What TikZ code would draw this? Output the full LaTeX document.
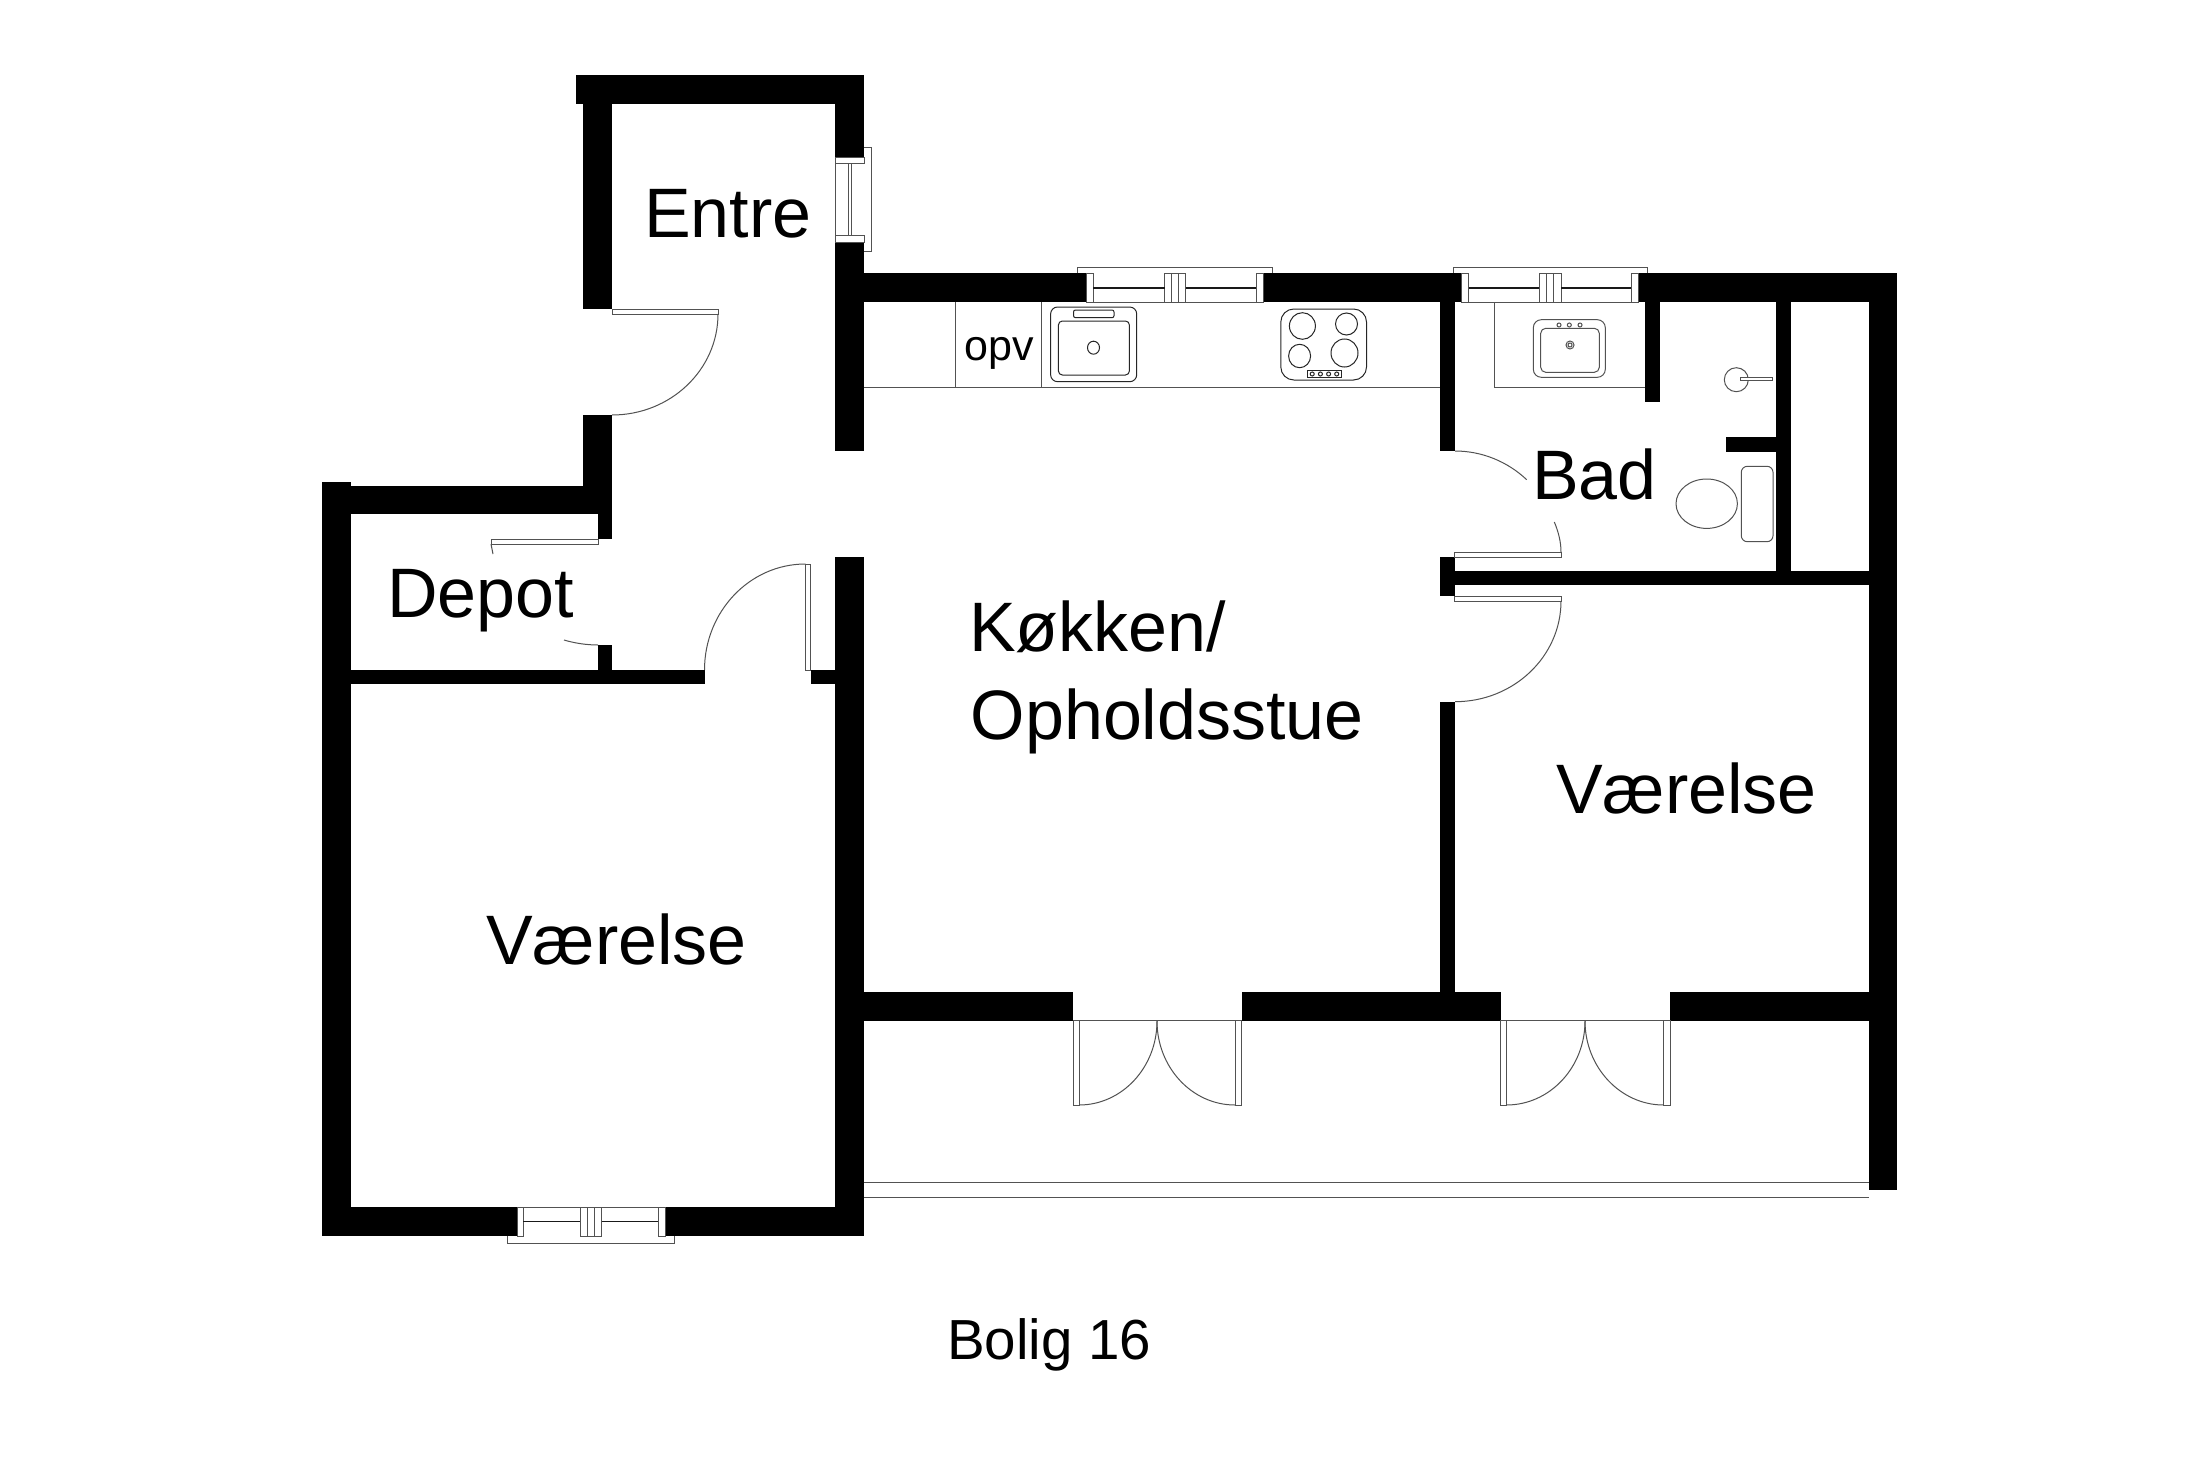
\documentclass[tikz,border=0pt]{standalone}
\usepackage{fontspec}
\setmainfont{Liberation Sans}
\tikzset{
  wall/.style={fill=black,draw=none},
  thin line/.style={draw=black!68,line width=1pt},
  fix line/.style={draw=black!85,line width=1pt},
  glass/.style={draw=black!90,line width=1.5pt},
  label big/.style={anchor=base west,inner sep=0pt,font=\fontsize{70}{80}\selectfont},
  label mid/.style={anchor=base west,inner sep=0pt,font=\fontsize{56.5}{66}\selectfont},
  label small/.style={anchor=base west,inner sep=0pt,font=\fontsize{43}{50}\selectfont},
}
\begin{document}
\begin{tikzpicture}[x=1pt,y=-1pt]
\useasboundingbox (0,0) rectangle (2200,1466);
\fill[white] (0,0) rectangle (2200,1466);
% ---- walls
\fill[wall] (576,75) rectangle (864,104);
\fill[wall] (583,104) rectangle (612,309);
\fill[wall] (835,104) rectangle (864,158);
\fill[wall] (835,242) rectangle (864,451);
\fill[wall] (864,273) rectangle (1086.5,302);
\fill[wall] (1263,273) rectangle (1461,302);
\fill[wall] (1638,273) rectangle (1897,302);
\fill[wall] (1869,302) rectangle (1897,1190);
\fill[wall] (1440.3,302) rectangle (1454.7,451);
\fill[wall] (1440.3,557) rectangle (1454.7,596.3);
\fill[wall] (1440.3,701.7) rectangle (1454.7,1000);
\fill[wall] (1645,302) rectangle (1660,401.7);
\fill[wall] (1776.3,302) rectangle (1790.7,571);
\fill[wall] (1726,437) rectangle (1776.3,451.7);
\fill[wall] (1454.7,571) rectangle (1869,585);
\fill[wall] (583,415) rectangle (612,514);
\fill[wall] (322,482) rectangle (350.5,1236);
\fill[wall] (350.5,486) rectangle (612,514);
\fill[wall] (598,514) rectangle (612,539);
\fill[wall] (598,645) rectangle (612,670);
\fill[wall] (350.5,670) rectangle (704.5,684);
\fill[wall] (810.5,670) rectangle (835,684);
\fill[wall] (835,557) rectangle (864,1236);
\fill[wall] (350.5,1207) rectangle (517,1236);
\fill[wall] (665,1207) rectangle (864,1236);
\fill[wall] (864,991.7) rectangle (1073,1020.7);
\fill[wall] (1241.6,991.7) rectangle (1500.7,1020.7);
\fill[wall] (1670,991.7) rectangle (1869,1020.7);
% ---- entry window
\draw[thin line] (835,158) rectangle (864,164);
\draw[thin line] (835,235) rectangle (864,242);
\draw[thin line] (835,164) -- (835,235);
\draw[thin line] (848,164) -- (848,235) (851,164) -- (851,235);
\draw[thin line] (864,148) -- (871,148) -- (871,251) -- (864,251);
% ---- kitchen window
\draw[thin line] (1077.5,273) -- (1077.5,267) -- (1272,267) -- (1272,273);
\draw[thin line] (1086.5,273) rectangle (1093,302);
\draw[thin line] (1164.5,273) rectangle (1185.7,302);
\draw[thin line] (1171.4,273) -- (1171.4,302) (1178.4,273) -- (1178.4,302);
\draw[thin line] (1256,273) rectangle (1263,302);
\draw[thin line] (1093,302) -- (1256,302);
\draw[glass] (1093,288) -- (1164.5,288) (1185.7,288) -- (1256,288);
% ---- bath window
\draw[thin line] (1453,273) -- (1453,267) -- (1647.7,267) -- (1647.7,273);
\draw[thin line] (1461,273) rectangle (1468.7,302);
\draw[thin line] (1539.3,273) rectangle (1561,302);
\draw[thin line] (1546.7,273) -- (1546.7,302) (1553.7,273) -- (1553.7,302);
\draw[thin line] (1631,273) rectangle (1638,302);
\draw[thin line] (1468.7,302) -- (1631,302);
\draw[glass] (1468.7,288) -- (1539.3,288) (1561,288) -- (1631,288);
% ---- bedroom window
\draw[thin line] (507.7,1236) -- (507.7,1243.3) -- (674.3,1243.3) -- (674.3,1236);
\draw[thin line] (517,1207) rectangle (523.3,1236);
\draw[thin line] (580.3,1207) rectangle (601.7,1236);
\draw[thin line] (587.3,1207) -- (587.3,1236) (594.3,1207) -- (594.3,1236);
\draw[thin line] (658,1207) rectangle (665,1236);
\draw[thin line] (523.3,1207) -- (658,1207);
\draw[glass] (523.3,1221.7) -- (580.3,1221.7) (601.7,1221.7) -- (658,1221.7);
% ---- counters
\draw[thin line] (864,387.3) -- (1440.3,387.3);
\draw[thin line] (955.7,302) -- (955.7,387.3);
\draw[thin line] (1041.6,302) -- (1041.6,387.3);
\draw[thin line] (1494,302) -- (1494,387.3) -- (1645,387.3);
% ---- kitchen sink
\draw[fix line,rounded corners=7pt] (1050.6,307) rectangle (1136.7,381.7);
\draw[fix line,rounded corners=4pt] (1058.4,321) rectangle (1129.4,375);
\draw[fix line,rounded corners=2pt] (1073.5,310) rectangle (1114,317.7);
\draw[fix line] (1093.5,347.7) ellipse (6 and 6.5);
% ---- hob
\draw[fix line,rounded corners=13pt] (1280.8,309) rectangle (1366.5,380);
\draw[fix line] (1302.4,326) ellipse (13 and 13.3);
\draw[fix line] (1346.5,324) ellipse (11 and 11);
\draw[fix line] (1299.6,356) ellipse (11 and 11.7);
\draw[fix line] (1344.5,353) ellipse (13.5 and 14);
\draw[fix line] (1307.8,370.7) rectangle (1341,377.3);
\foreach \kx in {1312.2,1320.4,1328.6,1336.7} \draw[fix line] (\kx,374) circle (2);
% ---- bath sink, wash, toilet
\draw[thin line,rounded corners=8pt] (1533.3,319.7) rectangle (1605.3,377.3);
\draw[thin line,rounded corners=5pt] (1540.7,328.3) rectangle (1599.3,372.3);
\foreach \kx in {1559,1569.3,1580} \draw[thin line] (\kx,325) circle (2);
\draw[thin line] (1570,345) circle (4) (1570,345) circle (2);
\draw[thin line] (1736.3,379.7) circle (12);
\draw[thin line,fill=white] (1740.3,377.7) rectangle (1772.3,380.7);
\draw[thin line] (1706.7,503.7) ellipse (30.7 and 24.7);
\draw[thin line,rounded corners=6pt] (1741.3,466.3) rectangle (1773,541.7);
% ---- single doors
\draw[thin line] (612,309) rectangle (718,314);
\draw[thin line] (718,314) .. controls (718,369.8) and (670.5,415) .. (612,415);
\draw[thin line] (598,539) -- (598,544) -- (491,544) -- (491,539) -- cycle;
\draw[thin line] (491,544) -- (493,554);
\draw[thin line] (598,645) .. controls (586,645) and (574,643) .. (564,640);
\draw[thin line] (805.5,564) rectangle (810.5,670);
\draw[thin line] (805.5,564) .. controls (749.7,564) and (704.5,611.5) .. (704.5,670);
\draw[thin line] (1454.7,552.3) rectangle (1561,557.3);
\draw[thin line] (1455,451) .. controls (1481.7,451) and (1507.3,461.4) .. (1526.7,479.7);
\draw[thin line] (1554.3,522) .. controls (1558.5,532) and (1561,542) .. (1561,552.3);
\draw[thin line] (1454.7,596.3) rectangle (1561,601);
\draw[thin line] (1561,601) .. controls (1561,656.6) and (1513.5,701.7) .. (1455,701.7);
% ---- French doors
\draw[thin line] (1073,1020.7) -- (1241.6,1020.7);
\draw[thin line] (1073,1020.7) rectangle (1079,1105);
\draw[thin line] (1235,1020.7) rectangle (1241.6,1105);
\draw[thin line] (1157,1021) .. controls (1157,1067.4) and (1122,1105) .. (1079,1105);
\draw[thin line] (1157,1021) .. controls (1157,1067.4) and (1192,1105) .. (1235,1105);
\draw[thin line] (1500.7,1020.7) -- (1670,1020.7);
\draw[thin line] (1500.7,1020.7) rectangle (1506.4,1105);
\draw[thin line] (1663.5,1020.7) rectangle (1670,1105);
\draw[thin line] (1585,1021) .. controls (1585,1067.4) and (1549.8,1105) .. (1506.4,1105);
\draw[thin line] (1585,1021) .. controls (1585,1067.4) and (1620.6,1105) .. (1663.5,1105);
% ---- balcony
\draw[thin line] (864,1182.3) -- (1869,1182.3);
\draw[thin line] (864,1197.3) -- (1869,1197.3);
% ---- labels
\node[label big] (entre) at (644,237) {Entre};
\node[label small] (opv) at (964,360) {opv};
\node[label big] (bad) at (1532,499) {Bad};
\node[label big] (depot) at (387,617) {Depot};
\node[label big] (kokken) at (969,651) {Køkken/};
\node[label big] (ophold) at (970.5,739) {Opholdsstue};
\node[label big] (vaer1) at (1556,813.5) {Værelse};
\node[label big] (vaer2) at (486,964) {Værelse};
\node[label mid] (bolig) at (947,1359.6) {Bolig 16};
\end{tikzpicture}
\end{document}
